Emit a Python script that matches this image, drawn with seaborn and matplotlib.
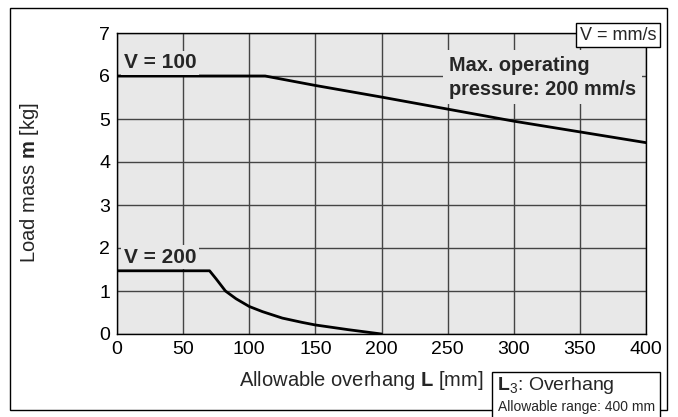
import matplotlib
matplotlib.use("Agg")
import matplotlib.pyplot as plt
from matplotlib.patches import Rectangle
import seaborn as sns
import pandas as pd

# V = 100 mm/s curve
l_100 = [0, 50, 112, 150, 200, 250, 300, 350, 400]
m_100 = [6.0, 6.0, 6.0, 5.78, 5.51, 5.23, 4.95, 4.70, 4.45]
# V = 200 mm/s curve
l_200 = [0, 50, 70, 75, 82, 90, 100, 110, 125, 140, 150, 175, 200]
m_200 = [1.47, 1.47, 1.47, 1.28, 1.0, 0.82, 0.64, 0.52, 0.37, 0.27, 0.21, 0.10, 0.0]

x_ticks = [0, 50, 100, 150, 200, 250, 300, 350, 400]
y_ticks = [0, 1, 2, 3, 4, 5, 6, 7]

df = pd.concat([
    pd.DataFrame({"L": l_100, "m": m_100, "V": "100"}),
    pd.DataFrame({"L": l_200, "m": m_200, "V": "200"}),
])

sns.set_theme(style="white")
plt.rcParams['font.family'] = ['Liberation Sans', 'DejaVu Sans']
plt.rcParams['mathtext.fontset'] = 'custom'
plt.rcParams['mathtext.rm'] = 'Liberation Sans'
plt.rcParams['mathtext.bf'] = 'Liberation Sans:bold'

W, H = 678, 417
fig = plt.figure(figsize=(W / 100, H / 100), dpi=100)
ax = fig.add_axes([117 / W, 1 - 334 / H, (646 - 117) / W, (334 - 33) / H])
bg = "#e8e8e8"
ax.set_facecolor(bg)

sns.lineplot(data=df, x="L", y="m", hue="V", palette=["black", "black"],
             linewidth=2, legend=False, ax=ax, zorder=3, estimator=None, sort=False)

ax.set_xlim(0, 400)
ax.set_ylim(0, 7)
ax.set_xticks(x_ticks)
ax.set_yticks(y_ticks)
ax.grid(True, color="#444444", linewidth=1.0)
ax.set_axisbelow(True)
ax.tick_params(length=0, labelsize=14, pad=5, colors="black")
ax.set_xlabel("")
ax.set_ylabel("")
for s in ax.spines.values():
    s.set_color("black")
    s.set_linewidth(1.0)

lbl_box = dict(facecolor=bg, edgecolor="none", pad=2)
ax.text(5, 6.18, "V = 100", fontsize=15, fontweight="bold", ha="left", va="baseline", bbox=lbl_box, zorder=4)
ax.text(5, 1.66, "V = 200", fontsize=15, fontweight="bold", ha="left", va="baseline", bbox=lbl_box, zorder=4)
ax.text(251, 5.56, "Max. operating\npressure: 200 mm/s", fontsize=14.3, fontweight="bold",
        ha="left", va="baseline", linespacing=1.33,
        bbox=dict(facecolor=bg, edgecolor="none", pad=4), zorder=4)

# outer frame
fig.patches.append(Rectangle((10 / W, 1 - 410 / H), 657 / W, 402 / H, transform=fig.transFigure,
                             fill=False, edgecolor="black", linewidth=1.0, zorder=0))

fig.text(30 / W, 1 - 183 / H, r"Load mass $\mathbf{m}$ [kg]", rotation=90, fontsize=14.5,
         ha="center", va="center")
fig.text(361 / W, 1 - 380 / H, r"Allowable overhang $\mathbf{L}$ [mm]", fontsize=14.5,
         ha="center", va="center")

fig.text(618 / W, 1 - 35 / H, "V = mm/s", fontsize=13, ha="center", va="center", zorder=5,
         bbox=dict(facecolor="white", edgecolor="black", linewidth=1.0, pad=2.5))

# L3 box
fig.patches.append(Rectangle((492 / W, -0.02), 168 / W, 45 / H + 0.02, transform=fig.transFigure,
                             facecolor="white", edgecolor="black", linewidth=1.0, zorder=5))
fig.text(497 / W, 1 - 386 / H, r"$\mathbf{L}_{\mathrm{3}}$: Overhang", fontsize=14,
         ha="left", va="center", zorder=6)
fig.text(498 / W, 1 - 407 / H, "Allowable range: 400 mm", fontsize=10,
         ha="left", va="center", zorder=6)

fig.savefig("out.png", dpi=100)
